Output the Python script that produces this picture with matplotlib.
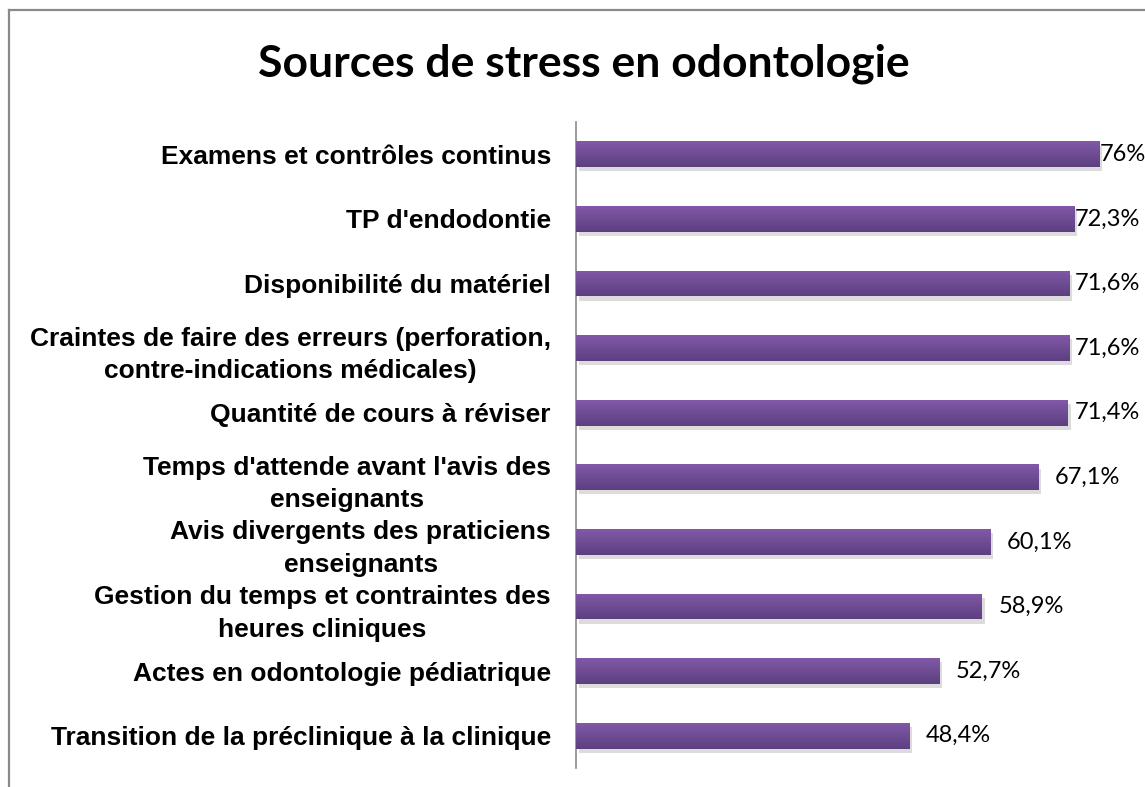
import numpy as np
import matplotlib
matplotlib.use('Agg')
import matplotlib.pyplot as plt
import matplotlib.patheffects as pe
from matplotlib.colors import LinearSegmentedColormap
from matplotlib.lines import Line2D

# Data: sources of stress, percentages of students
categories = [
    "Examens et contrôles continus",
    "TP d'endodontie",
    "Disponibilité du matériel",
    "Craintes de faire des erreurs (perforation,\ncontre-indications médicales)",
    "Quantité de cours à réviser",
    "Temps d'attende avant l'avis des\nenseignants",
    "Avis divergents des praticiens\nenseignants",
    "Gestion du temps et contraintes des\nheures cliniques",
    "Actes en odontologie pédiatrique",
    "Transition de la préclinique à la clinique",
]
values = [76, 72.3, 71.6, 71.6, 71.4, 67.1, 60.1, 58.9, 52.7, 48.4]
value_labels = ["76%", "72,3%", "71,6%", "71,6%", "71,4%", "67,1%", "60,1%", "58,9%", "52,7%", "48,4%"]

W, H = 1145, 787
fig = plt.figure(figsize=(W / 100, H / 100), dpi=100)
fig.patch.set_facecolor('white')

# chart frame (left and top edges)
fx, fy = 9 / W, 1 - 10 / H
fig.add_artist(Line2D([fx, fx], [0, fy], color='#8a8a8a', lw=1.6, transform=fig.transFigure))
fig.add_artist(Line2D([fx, 1], [fy, fy], color='#8a8a8a', lw=1.6, transform=fig.transFigure))

fig.text(584 / W, 1 - 64 / H, "Sources de stress en odontologie", ha='center', va='center',
         fontsize=32, fontweight='bold', family='Lato')

ax = fig.add_axes([576 / W, 19 / H, 1 - 576 / W, (768 - 122) / H])

y = np.arange(len(values))
h = 0.4
bars = ax.barh(y, values, height=h, color='#6f4c96', zorder=2,
               path_effects=[pe.SimplePatchShadow(offset=(2, -3), shadow_rgbFace='#777777', alpha=0.25),
                             pe.Normal()])

# vertical gradient on each bar
cmap = LinearSegmentedColormap.from_list('purp', ['#8159a8', '#5d3f80'])
grad = np.linspace(0, 1, 64).reshape(-1, 1)
for bar, yi, v in zip(bars, y, values):
    im = ax.imshow(grad, extent=[0, v, yi + h / 2, yi - h / 2], aspect='auto', cmap=cmap,
                   origin='upper', zorder=3, interpolation='bicubic')
    im.set_clip_path(bar)
ax.set_xlim(0, 82.6)
ax.set_ylim(len(values) - 0.5, -0.5)

ax.set_yticks(y)
ax.set_yticklabels(categories, fontsize=19, fontweight='bold', family='Liberation Sans',
                   multialignment='center', linespacing=1.45)
ax.tick_params(axis='y', length=0, pad=18)
ax.set_xticks([])
for s in ['top', 'right', 'bottom']:
    ax.spines[s].set_visible(False)
ax.spines['left'].set_color('#8a8a8a')
ax.spines['left'].set_linewidth(1.2)

# value labels, kept inside the chart on the right
texts = []
for yi, v, lab in zip(y, values, value_labels):
    t = ax.annotate(lab, (v, yi), xytext=(12, 0), textcoords='offset points', va='center',
                    ha='left', fontsize=17, family='Lato', annotation_clip=False)
    texts.append(t)

fig.canvas.draw()
r = fig.canvas.get_renderer()
limit = W - 5
for t in texts:
    bb = t.get_window_extent(r)
    if bb.x1 > limit:
        dx = (bb.x1 - limit) / fig.dpi * 72
        ox, oy = t.xyann
        t.xyann = (max(ox - dx, 0), oy)

fig.savefig('out.png', dpi=100, facecolor='white')
